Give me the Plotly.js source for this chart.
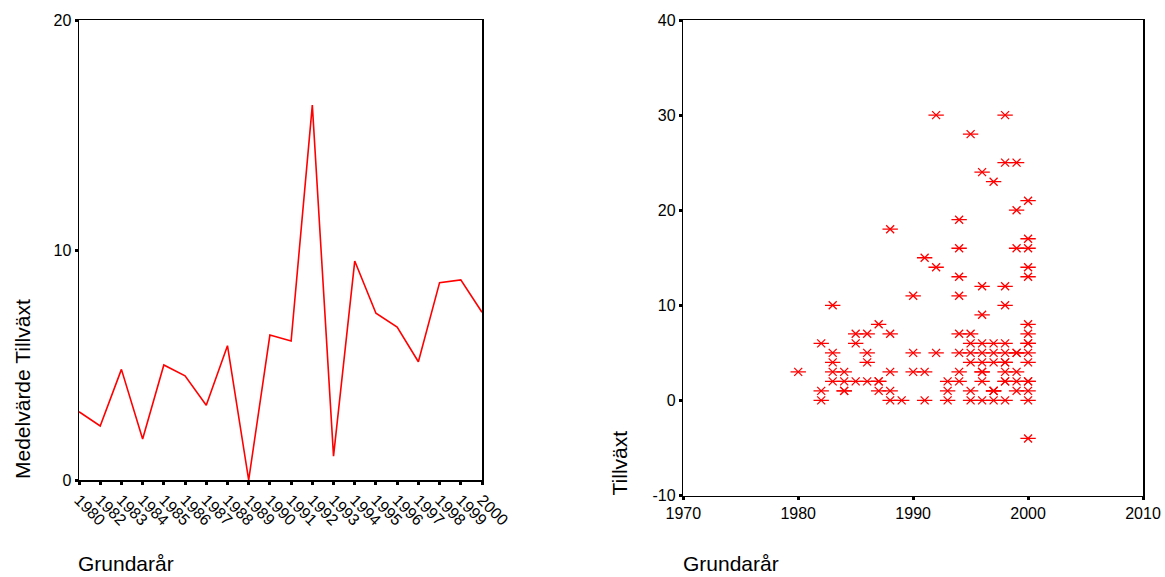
<!DOCTYPE html>
<html>
<head>
<meta charset="utf-8">
<script src="https://cdn.plot.ly/plotly-3.0.1.min.js"></script>
<style>
html,body{margin:0;padding:0;background:#fff;}
#chart{width:1165px;height:577px;}
</style>
</head>
<body>
<div id="chart"></div>
<script>
// Left chart: mean growth per founding year
const lineYears = ["1980","1982","1983","1984","1985","1986","1987","1988","1989","1990",
                   "1991","1992","1993","1994","1995","1996","1997","1998","1999","2000"];
const lineMeans = [2.97, 2.35, 4.81, 1.78, 5.0, 4.53, 3.25, 5.84, 0.0, 6.3,
                   6.04, 16.3, 1.04, 9.52, 7.25, 6.65, 5.14, 8.58, 8.7, 7.29];
const lineYTicks = [0, 10, 20];

// Right chart: individual firms (founding year, growth)
const scatterYear = [
  1980,
  1982,1982,1982,
  1983,1983,1983,1983,1983,
  1984,1984,1984,1984,
  1985,1985,1985,
  1986,1986,1986,1986,
  1987,1987,1987,1987,
  1988,1988,1988,1988,1988,
  1989,
  1990,1990,1990,
  1991,1991,1991,
  1992,1992,1992,
  1993,1993,1993,
  1994,1994,1994,1994,1994,1994,1994,1994,
  1995,1995,1995,1995,1995,1995,1995,
  1996,1996,1996,1996,1996,1996,1996,1996,1996,1996,
  1997,1997,1997,1997,1997,1997,1997,1997,
  1998,1998,1998,1998,1998,1998,1998,1998,1998,1998,1998,1998,
  1999,1999,1999,1999,1999,1999,1999,1999,
  2000,2000,2000,2000,2000,2000,2000,2000,2000,2000,2000,2000,2000,2000,2000,2000
];
const scatterGrowth = [
  3,
  6,1,0,
  10,5,4,3,2,
  3,2,1,1,
  7,6,2,
  7,5,4,2,
  8,2,2,1,
  18,7,3,1,0,
  0,
  11,5,3,
  15,3,0,
  30,14,5,
  2,1,0,
  19,16,13,11,7,5,3,2,
  28,7,6,5,4,1,0,
  24,12,9,6,5,4,3,3,2,0,
  23,6,5,4,1,1,1,0,
  30,25,12,10,6,5,4,4,3,2,2,0,
  25,20,16,5,5,3,2,1,
  21,17,16,14,13,8,7,6,6,5,4,2,2,1,0,-4
];
const scatterXTicks = [1970, 1980, 1990, 2000, 2010];
const scatterYTicks = [-10, 0, 10, 20, 30, 40];
const scatterYTickText = ["-10", "0", "10", "20", "30", "40"];

const W = 1165, H = 577;
const px = v => v / W;
const py = v => 1 - v / H;

const FONT = "Liberation Sans, Arial, sans-serif";
const red = "#ff0000";
const TITLE_SIZE = 21;

const axisCommon = {
  showline: true, linecolor: "#000", linewidth: 1.5, mirror: true,
  showgrid: false, zeroline: false,
  ticks: "outside", ticklen: 3, tickwidth: 3, tickcolor: "#000",
  tickfont: {family: FONT, size: 16, color: "#000"}
};

const traces = [
  {
    x: lineYears, y: lineMeans, type: "scatter", mode: "lines",
    line: {color: red, width: 1.6},
    xaxis: "x", yaxis: "y", hoverinfo: "x+y"
  },
  {
    x: scatterYear, y: scatterGrowth, type: "scatter", mode: "markers",
    marker: {symbol: "x-thin-open", size: 8, color: red, line: {color: red, width: 1.3}},
    xaxis: "x2", yaxis: "y2", hoverinfo: "x+y"
  },
  {
    x: scatterYear, y: scatterGrowth, type: "scatter", mode: "markers",
    marker: {symbol: "line-ew-open", size: 11, color: red, line: {color: red, width: 1.3}},
    xaxis: "x2", yaxis: "y2", hoverinfo: "skip"
  }
];

const layout = {
  width: W, height: H,
  margin: {l: 0, r: 0, t: 0, b: 0},
  paper_bgcolor: "#fff", plot_bgcolor: "#fff",
  showlegend: false,
  font: {family: FONT, color: "#000"},
  xaxis: Object.assign({}, axisCommon, {
    domain: [px(79), px(482)], anchor: "y",
    type: "category", range: [0, lineYears.length - 1],
    tickangle: 45
  }),
  yaxis: Object.assign({}, axisCommon, {
    domain: [py(480), py(20)], anchor: "x",
    range: [0, 20], tickvals: lineYTicks
  }),
  xaxis2: Object.assign({}, axisCommon, {
    domain: [px(683.3), px(1143)], anchor: "y2",
    range: [1970, 2010], tickvals: scatterXTicks
  }),
  yaxis2: Object.assign({}, axisCommon, {
    domain: [py(495.5), py(20)], anchor: "x2",
    range: [-10, 40], tickvals: scatterYTicks, ticktext: scatterYTickText
  }),
  annotations: [
    {text: "Medelvärde Tillväxt", xref: "paper", yref: "paper", x: px(22), y: py(481),
     xanchor: "center", yanchor: "bottom", textangle: -90, showarrow: false,
     font: {family: FONT, size: TITLE_SIZE, color: "#000"}},
    {text: "Grundarår", xref: "paper", yref: "paper", x: px(76), y: 0,
     xanchor: "left", yanchor: "bottom", showarrow: false,
     font: {family: FONT, size: TITLE_SIZE, color: "#000"}},
    {text: "Tillväxt", xref: "paper", yref: "paper", x: px(619), y: py(498),
     xanchor: "center", yanchor: "bottom", textangle: -90, showarrow: false,
     font: {family: FONT, size: TITLE_SIZE, color: "#000"}},
    {text: "Grundarår", xref: "paper", yref: "paper", x: px(681), y: 0,
     xanchor: "left", yanchor: "bottom", showarrow: false,
     font: {family: FONT, size: TITLE_SIZE, color: "#000"}}
  ]
};

Plotly.newPlot("chart", traces, layout, {displayModeBar: false, staticPlot: true});
</script>
</body>
</html>
